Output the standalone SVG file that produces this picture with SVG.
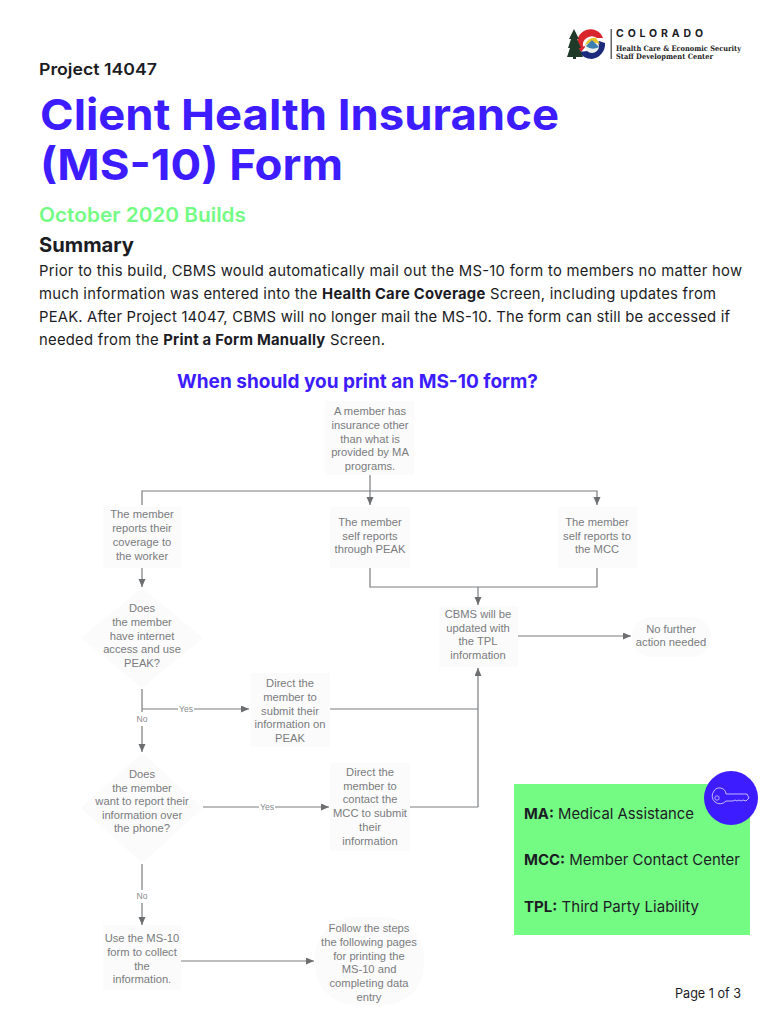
<svg xmlns="http://www.w3.org/2000/svg" width="770" height="1024" viewBox="0 0 770 1024">
<style>
text{font-family:"Inter","Liberation Sans",sans-serif;fill:#1c1c24}
.b{font-weight:700}
.s{font-weight:600}
.n{fill:#fbfbfb}
.t{font-family:"Liberation Sans",Arial,sans-serif;font-size:11.2px;fill:#7a7b7e;text-anchor:middle}
.l{font-family:"Liberation Sans",Arial,sans-serif;font-size:8.6px;fill:#8a8b8d;text-anchor:middle}
.c{fill:none;stroke:#7b7c7e;stroke-width:1.2}
.body{font-size:14.8px}
.g{font-size:15px}
.lg{font-family:"DejaVu Serif",serif;font-weight:700;font-size:7.4px;fill:#222}
</style>
<defs>
<marker id="a" markerUnits="userSpaceOnUse" markerWidth="9" markerHeight="8" refX="8" refY="3.5" orient="auto"><path d="M0 0L8 3.5L0 7Z" fill="#6d6e70"/></marker>
</defs>
<rect width="770" height="1024" fill="#fff"/>
<g id="logo">
<path d="M603 38A12.5 12.5 0 0 0 578 47L583 47A9 9 0 0 1 597 38Z" fill="#d8262c"/>
<path d="M578 47A15 15 0 0 0 581 52L586 46Z" fill="#d8262c"/>
<path d="M579 51Q590 54 599 41L605 43A15 15 0 0 1 592 59Q583 59 579 51Z" fill="#1c2a7c"/>
<circle cx="592" cy="46" r="7" fill="#edf2ee"/>
<path d="M585 45Q589 36 596 38L600 44Q592 41 585 45Z" fill="#e8c62e"/>
<path d="M586 46L592 40L599 47Q592 51 586 46Z" fill="#3c7fb0"/>
<path d="M574 29L579 39L577 39L581 48L579 48L583 57L576 57V59H573V57H567L570 48L568 48L571 39L569 39Z" fill="#1f3a28"/>
<rect x="610.5" y="29" width="1.5" height="30" fill="#666"/>
<text x="616" y="37" font-size="10.5" class="b" textLength="87" fill="#111">COLORADO</text>
<text x="616" y="51" class="lg" textLength="125" lengthAdjust="spacingAndGlyphs">Health Care &amp; Economic Security</text>
<text x="616" y="59" class="lg" textLength="97" lengthAdjust="spacingAndGlyphs">Staff Development Center</text>
</g>
<g id="header">
<text x="39" y="75" font-size="16.5" class="s" textLength="118" lengthAdjust="spacingAndGlyphs">Project 14047</text>
<text x="40" y="130" font-size="43" class="b" style="fill:#3d1cff" textLength="519" lengthAdjust="spacingAndGlyphs">Client Health Insurance</text>
<text x="40" y="180" font-size="43" class="b" style="fill:#3d1cff" textLength="303" lengthAdjust="spacingAndGlyphs">(MS-10) Form</text>
<text x="39" y="222" font-size="20" class="s" style="fill:#74fb84" textLength="207" lengthAdjust="spacingAndGlyphs">October 2020 Builds</text>
<text x="39" y="252" font-size="20" class="b" textLength="95" lengthAdjust="spacingAndGlyphs">Summary</text>
<text x="39" y="276" class="body" textLength="703">Prior to this build, CBMS would automatically mail out the MS-10 form to members no matter how</text>
<text x="39" y="299" class="body" textLength="677">much information was entered into the <tspan class="b">Health Care Coverage</tspan> Screen, including updates from</text>
<text x="39" y="322" class="body" textLength="691">PEAK. After Project 14047, CBMS will no longer mail the MS-10. The form can still be accessed if</text>
<text x="39" y="345" class="body" textLength="346">needed from the <tspan class="b">Print a Form Manually</tspan> Screen.</text>
<text x="177" y="388" font-size="19" class="b" style="fill:#3d1cff" textLength="361" lengthAdjust="spacingAndGlyphs">When should you print an MS-10 form?</text>
</g>
<g id="connectors">
<path class="c" d="M370 475V505" marker-end="url(#a)"/>
<path class="c" d="M142 505V491H597V505" marker-end="url(#a)"/>
<path class="c" d="M142 568V587" marker-end="url(#a)"/>
<path class="c" d="M142 689V712M142 726V752" marker-end="url(#a)"/>
<path class="c" d="M142 709H178M194 709H249" marker-end="url(#a)"/>
<path class="c" d="M330 709H478"/>
<path class="c" d="M478 807V668" marker-end="url(#a)"/>
<path class="c" d="M203 807H259M275 807H329" marker-end="url(#a)"/>
<path class="c" d="M410 807H478"/>
<path class="c" d="M370 568V587H597V568"/>
<path class="c" d="M478 587V605" marker-end="url(#a)"/>
<path class="c" d="M518 636H631" marker-end="url(#a)"/>
<path class="c" d="M142 864V890M142 903V925" marker-end="url(#a)"/>
<path class="c" d="M181 961H314" marker-end="url(#a)"/>
<text class="l" x="186" y="712">Yes</text>
<text class="l" x="142" y="722">No</text>
<text class="l" x="267" y="810">Yes</text>
<text class="l" x="142" y="899">No</text>
</g>
<g id="n1"><rect class="n" x="325" y="401" width="89" height="74"/><text class="t" x="370" y="415">A member has</text><text class="t" x="370" y="429">insurance other</text><text class="t" x="370" y="443">than what is</text><text class="t" x="370" y="456">provided by MA</text><text class="t" x="370" y="470">programs.</text></g>
<g id="n2"><rect class="n" x="103" y="507" width="78" height="61"/><text class="t" x="142" y="518">The member</text><text class="t" x="142" y="532">reports their</text><text class="t" x="142" y="546">coverage to</text><text class="t" x="142" y="560">the worker</text></g>
<g id="n3"><rect class="n" x="330" y="507" width="80" height="61"/><text class="t" x="370" y="526">The member</text><text class="t" x="370" y="540">self reports</text><text class="t" x="370" y="553">through PEAK</text></g>
<g id="n4"><rect class="n" x="558" y="507" width="79" height="61"/><text class="t" x="597" y="526">The member</text><text class="t" x="597" y="540">self reports to</text><text class="t" x="597" y="553">the MCC</text></g>
<g id="n5"><path class="n" d="M142 588L203 638L142 688L81 638Z"/><text class="t" x="142" y="612">Does</text><text class="t" x="142" y="626">the member</text><text class="t" x="142" y="640">have internet</text><text class="t" x="142" y="653">access and use</text><text class="t" x="142" y="667">PEAK?</text></g>
<g id="n6"><rect class="n" x="439" y="606" width="79" height="61"/><text class="t" x="478" y="618">CBMS will be</text><text class="t" x="478" y="632">updated with</text><text class="t" x="478" y="645">the TPL</text><text class="t" x="478" y="659">information</text></g>
<g id="n7"><rect class="n" x="632" y="617" width="79" height="40" rx="20"/><text class="t" x="671" y="633">No further</text><text class="t" x="671" y="646">action needed</text></g>
<g id="n8"><rect class="n" x="251" y="673" width="79" height="74"/><text class="t" x="290" y="687">Direct the</text><text class="t" x="290" y="701">member to</text><text class="t" x="290" y="715">submit their</text><text class="t" x="290" y="728">information on</text><text class="t" x="290" y="742">PEAK</text></g>
<g id="n9"><path class="n" d="M142 753L203 808L142 863L81 808Z"/><text class="t" x="142" y="778">Does</text><text class="t" x="142" y="792">the member</text><text class="t" x="142" y="805">want to report their</text><text class="t" x="142" y="819">information over</text><text class="t" x="142" y="832">the phone?</text></g>
<g id="n10"><rect class="n" x="330" y="763" width="80" height="88"/><text class="t" x="370" y="776">Direct the</text><text class="t" x="370" y="790">member to</text><text class="t" x="370" y="803">contact the</text><text class="t" x="370" y="817">MCC to submit</text><text class="t" x="370" y="831">their</text><text class="t" x="370" y="845">information</text></g>
<g id="n11"><rect class="n" x="103" y="925" width="78" height="65"/><text class="t" x="142" y="942">Use the MS-10</text><text class="t" x="142" y="956">form to collect</text><text class="t" x="142" y="970">the</text><text class="t" x="142" y="983">information.</text></g>
<g id="n12"><rect class="n" x="315" y="917" width="109" height="88" rx="40"/><text class="t" x="369" y="932">Follow the steps</text><text class="t" x="369" y="946">the following pages</text><text class="t" x="369" y="960">for printing the</text><text class="t" x="369" y="973">MS-10 and</text><text class="t" x="369" y="987">completing data</text><text class="t" x="369" y="1001">entry</text></g>
<g id="legend">
<rect x="514" y="784" width="236" height="151" fill="#74fb84"/>
<circle cx="731" cy="798" r="27" fill="#3d1cff"/>
<path d="M714 791A6.5 6.5 0 0 1 726 794H747L749 798L746 801L743 800L741 801L739 800L737 801L735 800L733 801L726 801A6.5 6.5 0 0 1 714 791Z" fill="none" stroke="#cfc8ff" stroke-width="0.9"/>
<circle cx="717" cy="798" r="2.2" fill="none" stroke="#cfc8ff" stroke-width="0.8"/>
<text x="524" y="819" class="g" textLength="170" lengthAdjust="spacingAndGlyphs"><tspan class="b">MA:</tspan> Medical Assistance</text>
<text x="524" y="865" class="g" textLength="216" lengthAdjust="spacingAndGlyphs"><tspan class="b">MCC:</tspan> Member Contact Center</text>
<text x="524" y="912" class="g" textLength="175" lengthAdjust="spacingAndGlyphs"><tspan class="b">TPL:</tspan> Third Party Liability</text>
</g>
<text x="675" y="998" font-size="13" textLength="66" lengthAdjust="spacingAndGlyphs">Page 1 of 3</text>
</svg>
